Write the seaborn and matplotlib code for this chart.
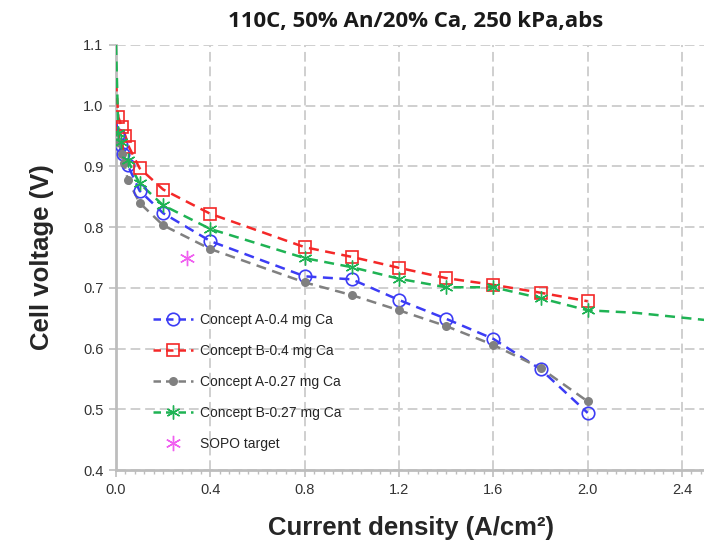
"""
Polarization curves: cell voltage vs current density (110C, 50% An/20% Ca, 250 kPa,abs)
"""

import numpy as np
import seaborn as sns
import matplotlib.pyplot as plt
from matplotlib.lines import Line2D
from matplotlib.ticker import MultipleLocator

# Concept A-0.4 mg Ca (blue open circles)
x_a04 = [0.01, 0.02, 0.03, 0.05, 0.1, 0.2, 0.4, 0.8, 1.0, 1.2, 1.4, 1.6, 1.8, 2.0]
v_a04 = [0.952, 0.935, 0.92, 0.902, 0.86, 0.823, 0.777, 0.719, 0.714, 0.68, 0.649, 0.616, 0.566, 0.494]

# Concept B-0.4 mg Ca (red open squares)
x_b04 = [0.01, 0.025, 0.04, 0.055, 0.1, 0.2, 0.4, 0.8, 1.0, 1.2, 1.4, 1.6, 1.8, 2.0]
v_b04 = [0.981, 0.965, 0.95, 0.932, 0.897, 0.862, 0.822, 0.767, 0.751, 0.733, 0.716, 0.705, 0.692, 0.678]

# Concept A-0.27 mg Ca (grey dots)
x_a027 = [0.01, 0.025, 0.035, 0.05, 0.1, 0.2, 0.4, 0.8, 1.0, 1.2, 1.4, 1.6, 1.8, 2.0]
v_a027 = [0.94, 0.92, 0.905, 0.878, 0.84, 0.803, 0.764, 0.709, 0.688, 0.663, 0.637, 0.606, 0.568, 0.513]

# Concept B-0.27 mg Ca (green stars)
x_b027 = [0.01, 0.02, 0.05, 0.1, 0.2, 0.4, 0.8, 1.0, 1.2, 1.4, 1.6, 1.8, 2.0]
v_b027 = [0.955, 0.94, 0.91, 0.872, 0.836, 0.797, 0.749, 0.734, 0.715, 0.701, 0.701, 0.683, 0.663]

# starting point of each dashed curve at zero current, and green curve beyond 2.0
v0_a04, v0_b04, v0_a027, v0_b027 = 0.975, 1.04, 0.965, 1.10
x_b027_ext = [2.2, 2.4, 2.5]
v_b027_ext = [0.659, 0.651, 0.647]

# SOPO target
x_sopo = [0.3]
v_sopo = [0.75]

sns.set_theme(style="white")
plt.rcParams["font.family"] = ["Liberation Sans", "DejaVu Sans"]

blue = "#3c3cf5"
red = "#f42828"
grey = "#808080"
green = "#1fb354"
pink = "#f060f0"
star = (6, 2, 0)
dash = (4, 2.6)

fig = plt.figure(figsize=(7.04, 5.45), dpi=100)
ax = fig.add_axes([116 / 704, 1 - 470 / 545, 589.6 / 704, 425 / 545])

series = [
    (x_a04, v_a04, v0_a04, [], [], blue, dict(marker="o", markersize=9, markerfacecolor="none", markeredgewidth=1.2)),
    (x_b04, v_b04, v0_b04, [], [], red, dict(marker="s", markersize=8, markerfacecolor="none", markeredgewidth=1.2)),
    (x_a027, v_a027, v0_a027, [], [], grey, dict(marker="o", markersize=6.5, markerfacecolor=grey, markeredgewidth=0)),
    (x_b027, v_b027, v0_b027, x_b027_ext, v_b027_ext, green, dict(marker=star, markersize=10, markeredgewidth=1.0)),
]

for x, v, v0, xe, ve, c, mk in series:
    line_x = [0.0] + list(x) + list(xe)
    line_v = [v0] + list(v) + list(ve)
    sns.lineplot(x=line_x, y=line_v, ax=ax, color=c, linewidth=1.8, dashes=False,
                 linestyle=(0, dash), sort=False, zorder=3)
    ax.plot(x, v, linestyle="none", color=c, markeredgecolor=c, zorder=4, **mk)

ax.plot(x_sopo, v_sopo, linestyle="none", marker=star, markersize=11, color=pink,
        markeredgecolor=pink, markeredgewidth=1.0, zorder=4)

ax.set_xlim(0, 2.5)
ax.set_ylim(0.4, 1.1)
ax.xaxis.set_major_locator(MultipleLocator(0.4))
ax.xaxis.set_minor_locator(MultipleLocator(0.04))
ax.yaxis.set_major_locator(MultipleLocator(0.1))
ax.xaxis.set_major_formatter(plt.FormatStrFormatter("%.1f"))
ax.yaxis.set_major_formatter(plt.FormatStrFormatter("%.1f"))

ax.grid(True, which="major", color="#cfcfcf", linestyle=(0, (5, 2.5)), linewidth=1.4)
ax.set_axisbelow(True)
for s in ["top", "right"]:
    ax.spines[s].set_visible(False)
for s in ["left", "bottom"]:
    ax.spines[s].set_color("#bdbdbd")
    ax.spines[s].set_linewidth(2)

ax.tick_params(axis="both", which="major", direction="out", length=5, width=1.2,
               color="#bdbdbd", labelsize=10.5, labelcolor="#333333", pad=4,
               left=True, bottom=True)
ax.tick_params(axis="x", which="minor", direction="out", length=3, width=1,
               color="#bdbdbd", bottom=True)

ax.set_xlabel("Current density (A/cm²)", fontsize=18.5, fontweight="bold", labelpad=14)
ax.set_ylabel("Cell voltage (V)", fontsize=18.5, fontweight="bold", labelpad=21)

fig.text(0.590, 0.961, "110C, 50% An/20% Ca, 250 kPa,abs", ha="center", va="center",
         fontsize=16, fontweight="bold", family=["Open Sans", "DejaVu Sans"], color="#1a1a1a")

handles = []
for x, v, v0, xe, ve, c, mk in series:
    handles.append(Line2D([], [], color=c, linewidth=1.8, linestyle=(0, (3, 2)),
                          markeredgecolor=c, **mk))
handles.append(Line2D([], [], linestyle="none", marker=star, markersize=11, color=pink,
                      markeredgecolor=pink, markeredgewidth=1.0))
labels = ["Concept A-0.4 mg Ca", "Concept B-0.4 mg Ca", "Concept A-0.27 mg Ca",
          "Concept B-0.27 mg Ca", "SOPO target"]
fig.legend(handles, labels, loc="upper left", bbox_to_anchor=(153 / 704, 1 - 313 / 545),
           frameon=False, fontsize=10, handlelength=2.85, handletextpad=0.5,
           labelspacing=1.22, borderpad=0, borderaxespad=0)

fig.savefig("out.png", dpi=100)
